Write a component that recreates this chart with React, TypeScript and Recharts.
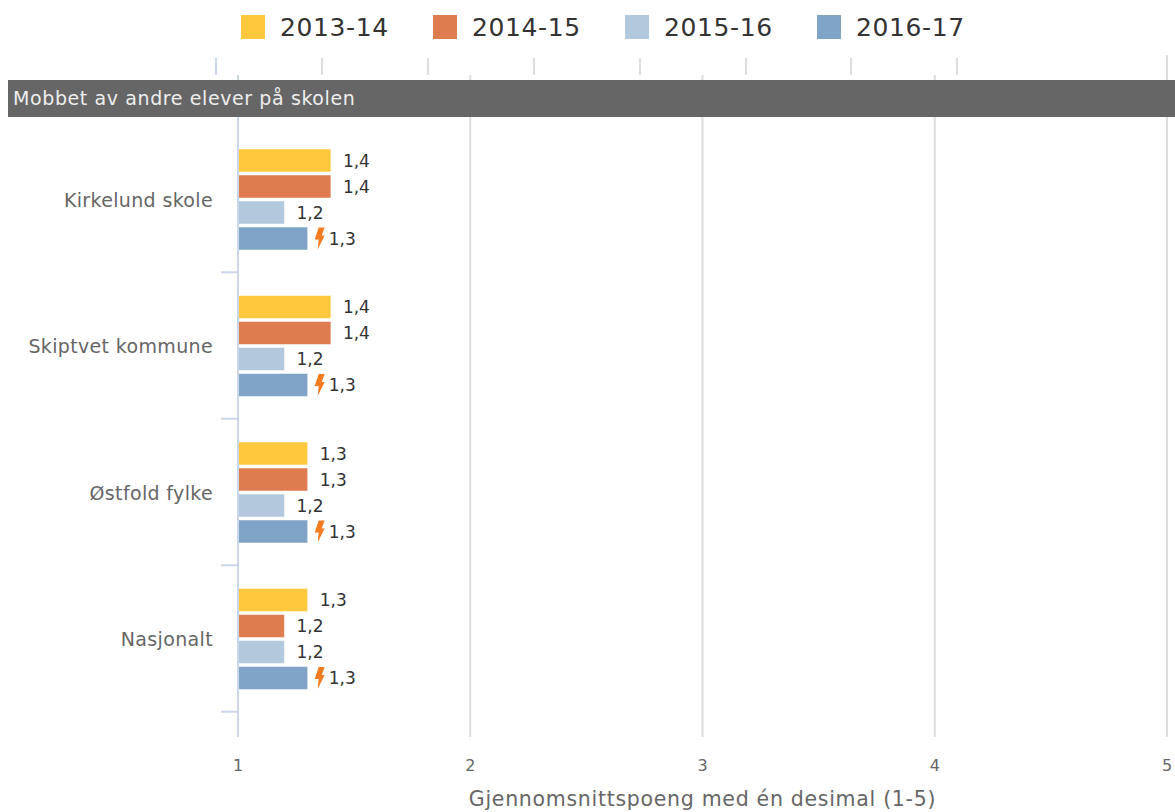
import React from "react";
import { BarChart, Bar, XAxis, YAxis, CartesianGrid, Legend, LabelList } from "recharts";

const FONT = "'DejaVu Sans', sans-serif";
const categories = ["Kirkelund skole", "Skiptvet kommune", "Østfold fylke", "Nasjonalt"];
const series = ["2013-14", "2014-15", "2015-16", "2016-17"];
const colors = ["#FFC83D", "#DE7B4F", "#B2C8DD", "#80A3C8"];
const values2013 = [1.4, 1.4, 1.3, 1.3];
const values2014 = [1.4, 1.4, 1.3, 1.2];
const values2015 = [1.2, 1.2, 1.2, 1.2];
const values2016 = [1.3, 1.3, 1.3, 1.3];
const xTicks = [1, 2, 3, 4, 5];
const title = "Mobbet av andre elever på skolen";
const xTitle = "Gjennomsnittspoeng med én desimal (1-5)";
const topTicks = [322, 428, 534, 640, 746, 851, 957];

const data = categories.map((name, i) => ({
  name,
  [series[0]]: values2013[i],
  [series[1]]: values2014[i],
  [series[2]]: values2015[i],
  [series[3]]: values2016[i],
}));

const fmt = (v: number) => String(v).replace(".", ",");

const CategoryTick = (p: any) => {
  const { x, y, payload } = p;
  return (
    <g>
      <text x={x - 17} y={y + 2} textAnchor="end" dominantBaseline="middle" fontSize={19} letterSpacing={0.35} fontFamily={FONT} fill="#666">
        {payload.value}
      </text>
      <line x1={x - 9} x2={x + 8} y1={y + 73} y2={y + 73} stroke="#ccd6eb" strokeWidth={2} />
    </g>
  );
};

const ValueLabel = (p: any) => {
  const { x, y, width, height, value } = p;
  return (
    <text x={x + width + 12} y={y + height / 2 + 1} dominantBaseline="middle" fontSize={17} fontFamily={FONT} fill="#333">
      {fmt(value)}
    </text>
  );
};

const BoltLabel = (p: any) => {
  const { x, y, width, height, value } = p;
  const bx = x + width + 7;
  const cy = y + height / 2;
  return (
    <g>
      <path
        d={`M${bx + 4} ${cy - 11} L${bx + 10} ${cy - 11} L${bx + 7} ${cy - 3} L${bx + 10} ${cy - 3} L${bx + 3} ${cy + 11} L${bx + 4} ${cy + 1} L${bx} ${cy + 1} Z`}
        fill="#F47B20"
      />
      <text x={x + width + 21} y={cy + 1} dominantBaseline="middle" fontSize={17} fontFamily={FONT} fill="#333">
        {fmt(value)}
      </text>
    </g>
  );
};

const LegendContent = () => (
  <div style={{ height: 40, position: "relative", width: 1175 }}>
    {series.map((s, i) => (
      <div key={s} style={{ position: "absolute", left: 241 + i * 192, top: 0, display: "flex", alignItems: "center", height: 40 }}>
        <span style={{ width: 24, height: 24, background: colors[i], display: "inline-block", marginRight: 15 }} />
        <span style={{ fontFamily: FONT, fontSize: 25, color: "#333", letterSpacing: 0.6 }}>{s}</span>
      </div>
    ))}
  </div>
);

export default function App() {
  return (
    <div style={{ position: "absolute", left: 0, top: 0, width: 1175, height: 812, overflow: "hidden", background: "#fff" }}>
      <BarChart
        width={1175}
        height={812}
        data={data}
        layout="vertical"
        barSize={23}
        barGap={3}
        margin={{ top: 35, right: 8, bottom: 0, left: 0 }}
      >
        <Legend verticalAlign="top" content={<LegendContent />} wrapperStyle={{ top: 7, left: 0, width: 1175 }} />
        <CartesianGrid horizontal={false} stroke="#ddd" strokeWidth={2} />
        <XAxis
          type="number"
          domain={[1, 5]}
          ticks={xTicks}
          height={75}
          axisLine={false}
          tickLine={false}
          tickMargin={17}
          allowDataOverflow
          tick={{ fontSize: 16, fontFamily: FONT, fill: "#666" }}
          label={{ value: xTitle, position: "insideBottom", offset: 6, fontSize: 20.5, letterSpacing: 0.7, fontFamily: FONT, fill: "#666" }}
        />
        <YAxis
          type="category"
          dataKey="name"
          width={238}
          padding={{ top: 51, bottom: 25 }}
          axisLine={{ stroke: "#ccd6eb", strokeWidth: 2 }}
          tickLine={false}
          tick={<CategoryTick />}
          interval={0}
        />
        {series.map((s, i) => (
          <Bar key={s} dataKey={s} fill={colors[i]} stroke="#ffffff" strokeOpacity={0.5} isAnimationActive={false}>
            <LabelList dataKey={s} content={i === 3 ? <BoltLabel /> : <ValueLabel />} />
          </Bar>
        ))}
      </BarChart>
      <svg style={{ position: "absolute", left: 0, top: 0 }} width={1175} height={80}>
        <line x1={216} x2={216} y1={58} y2={75} stroke="#ccd6eb" strokeWidth={2} />
        {topTicks.map((x) => (
          <line key={x} x1={x} x2={x} y1={58} y2={75} stroke="#ddd" strokeWidth={2} />
        ))}
        <line x1={1167} x2={1167} y1={55} y2={80} stroke="#ddd" strokeWidth={2} />
      </svg>
      <div
        style={{
          position: "absolute", left: 8, top: 80, width: 1167, height: 37, background: "#666",
          color: "#eee", fontFamily: FONT, fontSize: 19, letterSpacing: 0.6, lineHeight: "37px", paddingLeft: 5, boxSizing: "border-box",
        }}
      >
        {title}
      </div>
    </div>
  );
}
